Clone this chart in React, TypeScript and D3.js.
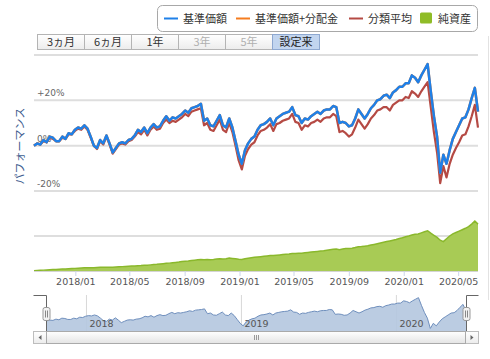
import React from 'react';
import * as d3 from 'd3';

// weekly points (Saturdays) since inception
const dates = d3.timeSaturday.range(new Date(2017, 8, 30), new Date(2020, 5, 14));

// 基準価額 performance, %
const navReturn = [
  0, 1, 0.5, 2.5, 1.5, 4, 3.5, 2, 2, 4,
  3, 5.5, 5, 7, 8, 7.5, 9, 7.5, 4, 0,
  -1, 2.5, 1, 4.5, 1, -3, -1, 1, 1.5, 1,
  2.5, 3, 4.5, 7, 6, 8, 5.5, 8, 9.5, 8,
  8.5, 11, 13, 11, 12.5, 12, 13, 14, 15.5, 14.5,
  16.5, 17, 17.5, 18.5, 11, 12, 9, 8.5, 11, 13.5,
  9, 8, 12, 8, 2, -4, -8, -2, 1, 3,
  4, 7, 9, 9.5, 10.5, 12, 9, 12, 13, 14,
  14.5, 15, 17, 13.5, 13, 10, 12, 11.5, 13, 14,
  15, 14, 15.5, 16, 16, 17.5, 17, 10, 10.5, 10,
  8.5, 9, 12, 16, 14, 12, 14, 16.5, 18, 20,
  20.5, 22, 22.5, 21, 23.5, 24.5, 26, 26, 27.5, 27.5,
  31, 30, 28, 31, 33.5, 36, 24, 13, 4, -12,
  -4, -8, -2, 3, 6, 9, 12, 12.5, 16, 21,
  25.5, 15,
];

// 基準価額+分配金: no distributions so far, same curve
const withDividend = navReturn;

// 分類平均, %
const categoryAvg = [
  0, 1, 0.5, 2, 1.5, 3.5, 3, 2, 2, 3.5,
  3, 5, 5, 6.5, 7.5, 7, 8.5, 7, 3.5, 0,
  -1.5, 2, 0.5, 4, 0.5, -3.5, -1.5, 0.5, 1, 0.5,
  2, 2.5, 4, 6, 5, 7, 4.5, 7, 8.5, 7,
  7.5, 10, 11.5, 10, 11, 10.5, 11.5, 12.5, 14, 13,
  15, 15.5, 16, 16.5, 9, 10, 7, 6.5, 9, 11.5,
  7, 6, 10, 6, 0, -6.5, -10.5, -4.5, -1.5, 0.5,
  1.5, 4.5, 6.5, 7, 8, 9.5, 6.5, 9.5, 10, 11,
  11.5, 12, 14, 10.5, 10, 7, 9, 8.5, 10, 10.5,
  11.5, 10.5, 12, 12.5, 12.5, 14, 13, 6, 6.5, 5.5,
  4, 5, 8, 11.5, 9.5, 7.5, 9.5, 12, 13.5, 15.5,
  16, 17, 17, 15.5, 18, 19, 20, 20, 21.5, 21,
  24, 23, 21.5, 24, 26, 28, 17, 6, -3, -16.5,
  -9, -14, -8, -4, -1, 1.5, 4.5, 5, 8.5, 13,
  18, 8,
];

// 純資産 (億円)
const netAssets = [
  1, 1.5, 2, 2.5, 3, 3.5, 4, 4.5, 5, 5.5,
  6, 6.5, 7, 7.5, 8, 8.5, 9, 9, 9, 9.5,
  10, 10.5, 10.5, 11, 11, 11, 11.5, 12, 12.5, 13,
  13.5, 14, 14.5, 15, 15.5, 16.5, 16.5, 17.5, 18.5, 19,
  20, 21, 22, 22.5, 23.5, 24.5, 25.5, 27, 28, 28.5,
  30, 31, 32, 33, 32, 33, 32.5, 33, 34, 35,
  34.5, 35, 37, 36, 35, 33.5, 33, 35, 36.5, 38,
  39, 40, 41, 42, 43, 44, 44, 45, 46, 47,
  48, 48.5, 50, 50, 51, 51, 52, 53, 54, 55,
  56, 57, 58, 59.5, 61, 62, 63, 61, 63, 64,
  64.5, 65, 67, 69.5, 70, 71, 72, 74, 76, 78,
  80, 82, 84, 86, 88, 90, 93, 95, 98, 100,
  103, 105, 106, 109, 112, 115, 108, 102, 96, 88,
  84, 92, 100, 106, 110, 114, 118, 122, 127, 134,
  143, 134,
];

const xTickLabels = ['2018/01', '2018/05', '2018/09', '2019/01', '2019/05', '2019/09', '2020/01', '2020/05'];
const navTickLabels = ['2018', '2019', '2020'];
const perfGrid = [-20, 0, 20, 40];
const perfLabels = [-20, 0, 20];
const assetGrid = [100];

const rangeButtons = ['3ヵ月', '6ヵ月', '1年', '3年', '5年', '設定来'];
const disabledButtons = ['3年', '5年'];
const selectedButton = '設定来';

const legendItems = [
  { name: '基準価額', color: '#1f80e8', kind: 'line', x: 164 },
  { name: '基準価額+分配金', color: '#f57c1f', kind: 'line', x: 236 },
  { name: '分類平均', color: '#b54a44', kind: 'line', x: 349 },
  { name: '純資産', color: '#8fbc27', kind: 'box', x: 420 },
];

const jp = '"Noto Sans CJK JP", "Noto Sans", sans-serif';
const latin = '"DejaVu Sans", sans-serif';

export default function App() {
  const n = Math.min(dates.length, navReturn.length);
  const ds = dates.slice(0, n);

  const x = d3.scaleTime().domain(d3.extent(ds) as [Date, Date]).range([34, 478]);
  const y = d3.scaleLinear().domain([-20, 40]).range([191, 55]);
  const ya = d3.scaleLinear().domain([0, 200]).range([271, 201]);
  const xn = d3.scaleTime().domain(x.domain()).range([47, 466]);
  const yn = d3.scaleLinear().domain([-16, 37]).range([331, 297]);

  const perfLine = d3.line<number>().x((_, i) => x(ds[i])).y(d => y(d));
  const assetArea = d3.area<number>().x((_, i) => x(ds[i])).y0(271).y1(d => ya(d));
  const assetLine = d3.line<number>().x((_, i) => x(ds[i])).y(d => ya(d));
  const navArea = d3.area<number>().x((_, i) => xn(ds[i])).y0(331).y1(d => yn(d));
  const navLine = d3.line<number>().x((_, i) => xn(ds[i])).y(d => yn(d));

  const parseMonth = d3.timeParse('%Y/%m');
  const parseYear = d3.timeParse('%Y');
  const fmtPct = (v: number) => (v > 0 ? `+${v}%` : `${v}%`);

  return (
    <div style={{ position: 'fixed', left: 0, top: 0 }}>
      <svg width={490} height={359} style={{ display: 'block', background: '#fff' }}>
        <defs>
          <linearGradient id="btn" x1="0" y1="0" x2="0" y2="1">
            <stop offset="0" stopColor="#ffffff" />
            <stop offset="1" stopColor="#ececec" />
          </linearGradient>
          <linearGradient id="thumb" x1="0" y1="0" x2="0" y2="1">
            <stop offset="0" stopColor="#ffffff" />
            <stop offset="1" stopColor="#e4e4e4" />
          </linearGradient>
        </defs>

        {/* right container edge */}
        <line x1={488.5} x2={488.5} y1={36} y2={300} stroke="#e2e2e2" />

        {/* legend */}
        <rect x={157.5} y={5.5} width={320} height={26} rx={5} fill="#fff" stroke="#a8a8a8" />
        {legendItems.map(it => (
          <g key={it.name}>
            {it.kind === 'line'
              ? <line x1={it.x} x2={it.x + 14} y1={18.5} y2={18.5} stroke={it.color} strokeWidth={2} />
              : <rect x={it.x} y={12.5} width={12} height={11} rx={1.5} fill={it.color} />}
            <text x={it.x + (it.kind === 'line' ? 19 : 18)} y={22.5} fontSize={11} fontFamily={jp} fill="#333">{it.name}</text>
          </g>
        ))}

        {/* range selector buttons */}
        {rangeButtons.map((b, i) => {
          const bx = 37 + i * 47;
          const sel = b === selectedButton;
          const dis = disabledButtons.includes(b);
          return (
            <g key={b}>
              <rect x={bx + 0.5} y={34.5} width={47} height={15} fill={sel ? '#c2d5ef' : 'url(#btn)'} stroke={sel ? '#8ea8d0' : '#b4b4b4'} />
              <text x={bx + 24} y={46} textAnchor="middle" fontSize={11} fontFamily={jp} fill={dis ? '#b0b0b0' : sel ? '#222' : '#333'}>{b}</text>
            </g>
          );
        })}

        {/* grid */}
        {perfGrid.map(v => (
          <line key={v} x1={34} x2={478} y1={y(v)} y2={y(v)} stroke="#dedede" strokeWidth={2} />
        ))}
        {assetGrid.map(v => (
          <line key={v} x1={34} x2={478} y1={ya(v)} y2={ya(v)} stroke="#dedede" strokeWidth={2} />
        ))}
        {perfLabels.map(v => (
          <text key={v} x={37} y={y(v) - 4} fontSize={9} fontFamily={latin} fill="#666">{fmtPct(v)}</text>
        ))}

        <text transform="translate(24,146) rotate(-90)" textAnchor="middle" fontSize={11} fontFamily={jp} fill="#3e5d8f">パフォーマンス</text>

        {/* net assets */}
        <path d={assetArea(netAssets.slice(0, n)) || ''} fill="#a8cb55" />
        <path d={assetLine(netAssets.slice(0, n)) || ''} fill="none" stroke="#8ab82c" strokeWidth={1.5} />

        {/* performance lines */}
        <path d={perfLine(categoryAvg.slice(0, n)) || ''} fill="none" stroke="#b54a44" strokeWidth={2.2} strokeLinejoin="round" />
        <path d={perfLine(withDividend.slice(0, n)) || ''} fill="none" stroke="#f57c1f" strokeWidth={2.5} strokeLinejoin="round" />
        <path d={perfLine(navReturn.slice(0, n)) || ''} fill="none" stroke="#1f80e8" strokeWidth={2.5} strokeLinejoin="round" />

        {/* x axis */}
        <line x1={34} x2={478} y1={271.5} y2={271.5} stroke="#d4d4d4" />
        {xTickLabels.map(t => {
          const tx = x(parseMonth(t) as Date);
          return (
            <g key={t}>
              <line x1={tx} x2={tx} y1={271} y2={276} stroke="#ccd6eb" />
              <text x={tx} y={285} textAnchor="middle" fontSize={9.5} fontFamily={latin} fill="#555">{t}</text>
            </g>
          );
        })}

        {/* navigator */}
        {navTickLabels.map(t => (
          <line key={t} x1={xn(parseYear(t) as Date)} x2={xn(parseYear(t) as Date)} y1={295} y2={331} stroke="#d8d8d8" />
        ))}
        <path d={navArea(navReturn.slice(0, n)) || ''} fill="#b4c6df" fillOpacity={0.9} />
        <path d={navLine(navReturn.slice(0, n)) || ''} fill="none" stroke="#6f8fbd" strokeWidth={1} />
        {navTickLabels.map(t => (
          <text key={t} x={xn(parseYear(t) as Date) + 3} y={327} fontSize={9.5} fontFamily={latin} fill="#555">{t}</text>
        ))}
        <path d="M33.5,295.5H46.5V331.5M466.5,331.5V295.5H478.5" fill="none" stroke="#666" />
        {[46.5, 466.5].map(hx => (
          <g key={hx}>
            <rect x={hx - 3.5} y={307.5} width={7} height={13} rx={2} fill="#f2f2f2" stroke="#999" />
            <line x1={hx - 1} x2={hx - 1} y1={310.5} y2={317.5} stroke="#888" />
            <line x1={hx + 1} x2={hx + 1} y1={310.5} y2={317.5} stroke="#888" />
          </g>
        ))}

        {/* scrollbar */}
        <rect x={33.5} y={331.5} width={445} height={12} fill="#f2f2f2" stroke="#bdbdbd" />
        <rect x={33.5} y={331.5} width={13} height={12} fill="url(#btn)" stroke="#bdbdbd" />
        <rect x={465.5} y={331.5} width={13} height={12} fill="url(#btn)" stroke="#bdbdbd" />
        <path d="M41.5,335L38.5,337.5L41.5,340Z" fill="#666" />
        <path d="M470.5,335L473.5,337.5L470.5,340Z" fill="#666" />
        <rect x={46.5} y={331.5} width={419} height={12} fill="url(#thumb)" stroke="#aaa" />
        {[-2, 0, 2].map(o => (
          <line key={o} x1={256.5 + o} x2={256.5 + o} y1={335} y2={340} stroke="#999" />
        ))}
      </svg>
    </div>
  );
}
